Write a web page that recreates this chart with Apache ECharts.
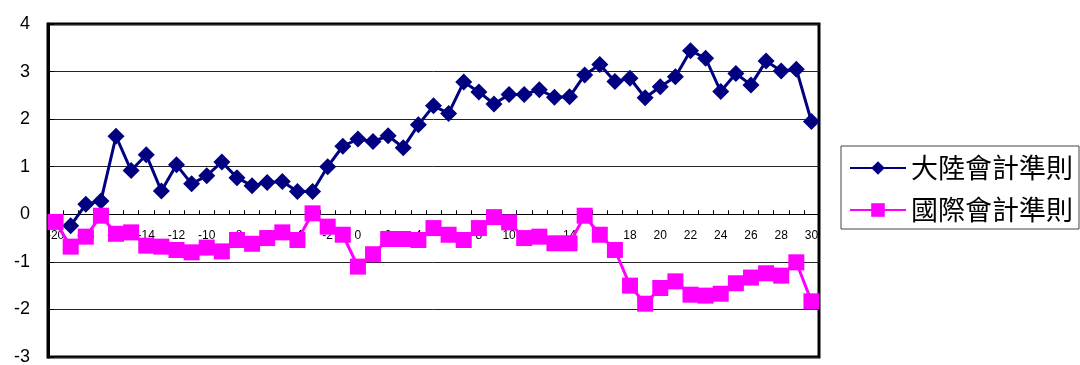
<!DOCTYPE html>
<html>
<head>
<meta charset="utf-8">
<script src="https://cdn.jsdelivr.net/npm/echarts@6/dist/echarts.min.js"></script>
<style>
  html, body { margin: 0; padding: 0; background: #fff; }
  #chart { width: 1080px; height: 365px; }
</style>
</head>
<body>
<div id="chart"></div>
<script>
// x categories: -20 .. 30
var categories = ['-20','-19','-18','-17','-16','-15','-14','-13','-12','-11','-10','-9','-8','-7','-6','-5','-4','-3','-2','-1',
  '0','1','2','3','4','5','6','7','8','9','10','11','12','13','14','15','16','17','18','19','20',
  '21','22','23','24','25','26','27','28','29','30'];

var seriesNames = ['大陸會計準則', '國際會計準則'];

// 大陸會計準則 (no point at -20)
var mainlandValues = [null, -0.24, 0.21, 0.28, 1.64, 0.92, 1.25, 0.49, 1.04, 0.64, 0.81, 1.10, 0.77, 0.60, 0.67, 0.69, 0.48, 0.48, 1.00, 1.43,
  1.58, 1.53, 1.65, 1.40, 1.88, 2.28, 2.12, 2.78, 2.57, 2.32, 2.52, 2.52, 2.62, 2.46, 2.47, 2.93, 3.15, 2.79, 2.86, 2.45, 2.68,
  2.89, 3.44, 3.28, 2.58, 2.96, 2.72, 3.22, 3.01, 3.05, 1.95];

// 國際會計準則
var ifrsValues = [-0.16, -0.68, -0.47, -0.03, -0.41, -0.38, -0.66, -0.68, -0.75, -0.80, -0.70, -0.78, -0.54, -0.62, -0.50, -0.38, -0.54, 0.02, -0.26, -0.43,
  -1.10, -0.84, -0.52, -0.52, -0.54, -0.29, -0.43, -0.54, -0.29, -0.06, -0.17, -0.50, -0.47, -0.61, -0.61, -0.03, -0.43, -0.75, -1.50, -1.88, -1.55,
  -1.41, -1.69, -1.71, -1.67, -1.45, -1.33, -1.24, -1.29, -1.01, -1.83];

var yMin = -3, yMax = 4, yStep = 1;

var gridTop = 24, gridBottom = 8, chartHeight = 365;
var plotHeight = chartHeight - gridTop - gridBottom;
// put the category axis on the zero line
var zeroOffset = -plotHeight * (0 - yMin) / (yMax - yMin);

var chart = echarts.init(document.getElementById('chart'));

var option = {
  animation: false,
  backgroundColor: '#fff',
  textStyle: { fontFamily: '"Liberation Sans", Arial, sans-serif' },
  grid: {
    left: 48,
    right: 261,
    top: gridTop,
    bottom: gridBottom,
    outerBoundsMode: 'none',
    containLabel: false,
    show: true,
    borderColor: '#000',
    borderWidth: 3
  },
  legend: {
    orient: 'vertical',
    left: 841,
    top: 146,
    padding: [8, 6, 5, 8],
    itemGap: 14,
    itemWidth: 56,
    itemHeight: 17,
    borderColor: '#444',
    borderWidth: 1,
    borderRadius: 0,
    lineStyle: { width: 2 },
    textStyle: {
      fontFamily: '"Noto Sans CJK TC", sans-serif',
      fontSize: 27,
      lineHeight: 28,
      color: '#000'
    },
    data: seriesNames
  },
  xAxis: {
    type: 'category',
    data: categories,
    boundaryGap: true,
    position: 'bottom',
    offset: zeroOffset,
    axisLine: { onZero: false, lineStyle: { color: '#000', width: 1 } },
    axisTick: { show: true, inside: true, length: 4, interval: 0, lineStyle: { color: '#000' } },
    axisLabel: {
      interval: 1,
      margin: 15,
      fontSize: 12,
      color: '#000',
      fontFamily: '"Liberation Sans", Arial, sans-serif'
    },
    splitLine: { show: false }
  },
  yAxis: {
    type: 'value',
    min: yMin,
    max: yMax,
    interval: yStep,
    axisLine: { show: true, lineStyle: { color: '#000', width: 3 } },
    axisTick: { show: true, inside: true, length: 6, lineStyle: { color: '#000' } },
    axisLabel: {
      margin: 18,
      fontSize: 18,
      color: '#000',
      fontFamily: '"Liberation Sans", Arial, sans-serif'
    },
    splitLine: { show: true, lineStyle: { color: '#222', width: 1 } }
  },
  series: [
    {
      name: seriesNames[0],
      type: 'line',
      data: mainlandValues,
      symbol: 'diamond',
      symbolSize: [17, 17],
      showAllSymbol: true,
      connectNulls: false,
      lineStyle: { color: '#000080', width: 3 },
      itemStyle: { color: '#000080' }
    },
    {
      name: seriesNames[1],
      type: 'line',
      data: ifrsValues,
      symbol: 'rect',
      symbolSize: [16, 16],
      showAllSymbol: true,
      lineStyle: { color: '#ff00ff', width: 3 },
      itemStyle: { color: '#ff00ff' }
    }
  ]
};

chart.setOption(option);

window.addEventListener('resize', function () {
  chart.resize();
});
</script>
</body>
</html>
